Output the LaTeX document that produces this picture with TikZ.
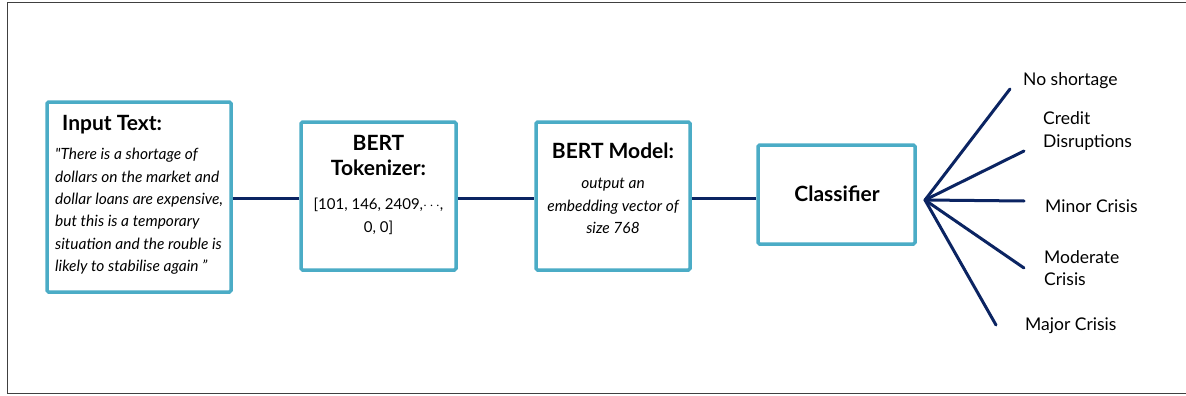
\documentclass[tikz,border=0pt]{standalone}
\usepackage{fontspec}
\setmainfont{Lato}
\definecolor{boxblue}{HTML}{4BACC6}
\definecolor{navy}{HTML}{0B2462}
\definecolor{framegray}{HTML}{404040}
\begin{document}
\begin{tikzpicture}[x=1pt,y=-1pt,
  stage/.style={draw=boxblue, line width=3.5pt, rounded corners=1.5pt, fill=white, inner sep=0pt},
  link/.style={draw=navy, line width=3pt},
  fan/.style={draw=navy, line width=3pt, line cap=round},
  head/.style={font=\fontsize{21}{21}\selectfont\bfseries, inner sep=0pt},
  body/.style={font=\fontsize{15}{23}\selectfont, inner sep=0pt},
  quote/.style={font=\fontsize{15.5}{22.4}\selectfont\itshape, inner sep=0pt},
  cls/.style={font=\fontsize{17.5}{22.5}\selectfont, inner sep=0pt, align=left}]
\useasboundingbox (0,0) rectangle (1186,396);
\draw[framegray, line width=0.9pt] (1200,2.5) -- (7,2.5) -- (7,393.5) -- (1200,393.5);

% pipeline stages
\node[stage, minimum width=184pt, minimum height=190pt] (input) at (139,197) {};
\node[stage, minimum width=155pt, minimum height=148pt] (tok) at (378.5,196) {};
\node[stage, minimum width=154pt, minimum height=148pt] (bert) at (613,196) {};
\node[stage, minimum width=157pt, minimum height=99pt] (clf) at (836.5,194.5) {};

% stage texts
\node[head, anchor=west] (inhead) at (62,125) {Input Text:};
\node[quote, anchor=north west, align=left] (intext) at (55,148)
  {\textquotedbl There is a shortage of\\dollars on the market and\\dollar loans are expensive,\\but this is a temporary\\situation and the rouble is\\likely to stabilise again ”};
\node[head, align=center] (tokhead) at (378.5,155.5) {BERT\\[4pt]Tokenizer:};
\node[body, align=center] (toktext) at (378.5,216) {[101, 146, 2409,$\cdots$,\\0, 0]};
\node[head] (berthead) at (613,151) {BERT Model:};
\node[quote, align=center] (berttext) at (613,206) {output an\\embedding vector of\\size 768};
\node[head] (clfhead) at (837,194) {Classifier};

% connectors between stages
\draw[link] (input.east |- 0,198) -- (tok.west |- 0,198);
\draw[link] (tok.east |- 0,198) -- (bert.west |- 0,198);
\draw[link] (bert.east |- 0,198) -- (clf.west |- 0,198);

% classifier outputs
\coordinate (hub) at (925,200);
\coordinate (o1) at (1010,89);
\coordinate (o2) at (1024,151);
\coordinate (o3) at (1024,201);
\coordinate (o4) at (1024,268);
\coordinate (o5) at (996,325);
\foreach \o in {o1,o2,o3,o4,o5} \draw[fan] (hub) -- (\o);

\node[cls, anchor=west] (l1) at (1023,81) {No shortage};
\node[cls, anchor=west] (l2) at (1043,131) {Credit\\Disruptions};
\node[cls, anchor=west] (l3) at (1045,206) {Minor Crisis};
\node[cls, anchor=west] (l4) at (1044,268) {Moderate\\Crisis};
\node[cls, anchor=west] (l5) at (1025,326) {Major Crisis};
\end{tikzpicture}
\end{document}
